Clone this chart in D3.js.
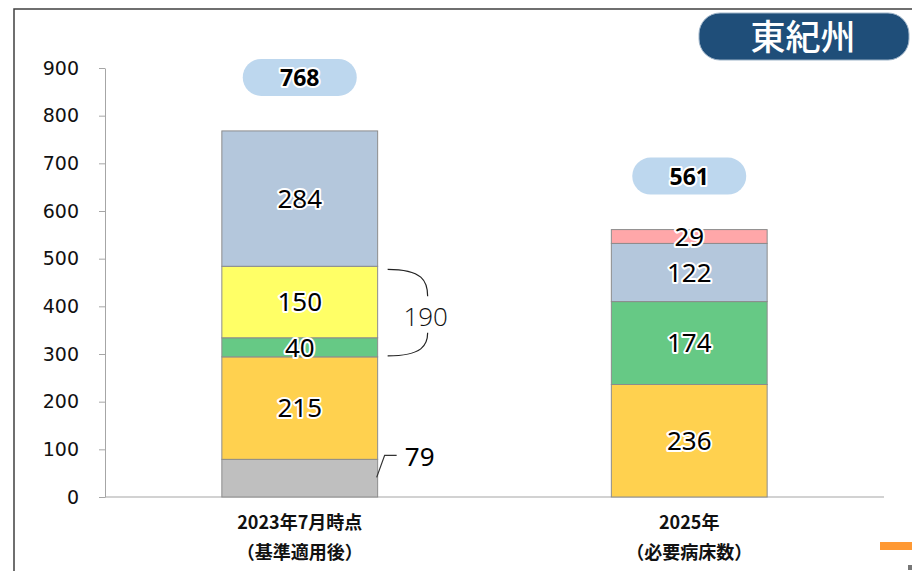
<!DOCTYPE html>
<html>
<head>
<meta charset="utf-8">
<script src="https://cdn.jsdelivr.net/npm/d3@7"></script>
<style>
  html, body { margin: 0; padding: 0; background: #fff; }
  svg { display: block; }
  .halo { paint-order: stroke; stroke: #fff; stroke-width: 4px; stroke-linejoin: round; }
</style>
</head>
<body>
<svg id="chart" width="912" height="571"></svg>
<script>
// categories and bottom labels
const categories = ["2023年7月時点", "2025年"];
const subLabels = ["（基準適用後）", "（必要病床数）"];

// stacked series, bottom to top
const seriesKeys = ["休棟等", "慢性期", "回復期", "回復期相当", "急性期", "高度急性期"];
const seriesColors = ["#BFBFBF", "#FFD14F", "#66C985", "#FFFF66", "#B4C7DC", "#FFA7A9"];
const values2023 = [79, 215, 40, 150, 284, 0];
const values2025 = [0, 236, 174, 0, 122, 29];
const totals = [768, 561];
const outsideKeys = ["休棟等"]; // labelled with a leader line

const yTicks = [0, 100, 200, 300, 400, 500, 600, 700, 800, 900];
const bracketValue = 190;
const regionName = "東紀州";

const svg = d3.select("#chart");
const margin = { left: 105, right: 28, top: 68, bottom: 74 };
const W = 912, H = 571;

const x = d3.scaleBand()
  .domain(categories)
  .range([margin.left, W - margin.right])
  .padding(0);
const barW = x.bandwidth() * 0.4;

const y = d3.scaleLinear()
  .domain([0, 900])
  .range([H - margin.bottom, margin.top]);

// frame
svg.append("path")
  .attr("d", `M14,${H}V9H${W}`)
  .attr("fill", "none")
  .attr("stroke", "#404040")
  .attr("stroke-width", 1.5);

// y axis
const yAxis = svg.append("g")
  .attr("transform", `translate(${margin.left},0)`)
  .call(d3.axisLeft(y).tickValues(yTicks).tickSize(6).tickPadding(20).tickSizeOuter(0));
yAxis.select(".domain").attr("stroke", "#A6A6A6");
yAxis.selectAll(".tick line").attr("stroke", "#A6A6A6");
yAxis.selectAll(".tick text")
  .attr("font-family", "DejaVu Sans, sans-serif")
  .attr("font-size", 19)
  .attr("fill", "#111");

// x axis line
svg.append("line")
  .attr("x1", margin.left).attr("x2", W - margin.right)
  .attr("y1", y(0)).attr("y2", y(0))
  .attr("stroke", "#A6A6A6").attr("stroke-width", 1.2);

// stack data
const table = seriesKeys.map((k, i) => ({ key: k, values: [values2023[i], values2025[i]] }));
const rows = categories.map((c, ci) => {
  const r = { cat: c };
  seriesKeys.forEach((k, i) => r[k] = table[i].values[ci]);
  return r;
});
const stacked = d3.stack().keys(seriesKeys)(rows);

const bars = svg.append("g");
stacked.forEach((layer, li) => {
  layer.forEach(seg => {
    const v = seg[1] - seg[0];
    if (v <= 0) return;
    const cx = x(seg.data.cat) + x.bandwidth() / 2;
    bars.append("rect")
      .attr("x", cx - barW / 2)
      .attr("y", y(seg[1]))
      .attr("width", barW)
      .attr("height", y(seg[0]) - y(seg[1]))
      .attr("fill", seriesColors[li])
      .attr("stroke", "#8C8C8C")
      .attr("stroke-width", 1);
  });
});

// segment labels
const labels = svg.append("g")
  .attr("font-family", "Noto Sans, sans-serif")
  .attr("font-size", 26)
  .attr("text-anchor", "middle")
  .attr("fill", "#000");
stacked.forEach((layer, li) => {
  layer.forEach(seg => {
    const v = seg[1] - seg[0];
    if (v <= 0) return;
    const cx = x(seg.data.cat) + x.bandwidth() / 2;
    if (outsideKeys.includes(layer.key)) {
      // leader line for the small bottom value
      const x0 = cx + barW / 2;
      const yy = y(seg[1]);
      svg.append("path")
        .attr("d", `M${x0 - 1},${yy + 18}L${x0 + 7},${yy - 4}H${x0 + 19}`)
        .attr("fill", "none").attr("stroke", "#333").attr("stroke-width", 1.2);
      labels.append("text")
        .attr("x", x0 + 42).attr("y", yy - 3)
        .attr("dy", "0.36em")
        .text(v);
      return;
    }
    labels.append("text")
      .attr("class", "halo")
      .attr("x", cx)
      .attr("y", y((seg[0] + seg[1]) / 2))
      .attr("dy", "0.36em")
      .text(v);
  });
});

// bracket for 150 + 40
{
  const cx = x(categories[0]) + x.bandwidth() / 2 + barW / 2;
  const yTop = y(values2023[0] + values2023[1] + values2023[2] + values2023[3]);
  const yBot = y(values2023[0] + values2023[1]);
  const xr = cx + 50;
  const xl = cx + 10;
  const ym = (yTop + yBot) / 2;
  svg.append("path")
    .attr("d", `M${xl},${yTop + 3}C${xr - 5},${yTop + 3} ${xr},${yTop + 15} ${xr},${yTop + 30}`)
    .attr("fill", "none").attr("stroke", "#222").attr("stroke-width", 1.2);
  svg.append("path")
    .attr("d", `M${xl},${yBot - 1}C${xr - 5},${yBot - 1} ${xr},${yBot - 12} ${xr},${yBot - 24}`)
    .attr("fill", "none").attr("stroke", "#222").attr("stroke-width", 1.2);
  svg.append("text")
    .attr("x", xr - 2).attr("y", ym + 5)
    .attr("dy", "0.36em")
    .attr("text-anchor", "middle")
    .attr("font-family", "Open Sans, sans-serif")
    .attr("font-weight", 300)
    .attr("font-size", 26)
    .attr("fill", "#111")
    .text(bracketValue);
}

// total pills
categories.forEach((c, i) => {
  const cx = x(c) + x.bandwidth() / 2;
  const cy = y(totals[i]) - 53;
  svg.append("rect")
    .attr("x", cx - 57).attr("y", cy - 19)
    .attr("width", 114).attr("height", 37)
    .attr("rx", 18.5)
    .attr("fill", "#BDD7EE");
  svg.append("text")
    .attr("class", "halo")
    .attr("x", cx).attr("y", cy)
    .attr("dy", "0.36em")
    .attr("text-anchor", "middle")
    .attr("font-family", "Noto Sans, sans-serif")
    .attr("font-weight", 700)
    .attr("font-size", 23)
    .text(totals[i]);
});

// category labels
const catG = svg.append("g")
  .attr("font-family", "Noto Sans CJK JP, sans-serif")
  .attr("font-weight", 700)
  .attr("font-size", 18)
  .attr("text-anchor", "middle")
  .attr("fill", "#111");
categories.forEach((c, i) => {
  const cx = x(c) + x.bandwidth() / 2;
  catG.append("text").attr("x", cx).attr("y", 529).text(c);
  catG.append("text").attr("x", cx).attr("y", 559).text(subLabels[i]);
});

// region badge
svg.append("rect")
  .attr("x", 699).attr("y", 13)
  .attr("width", 210).attr("height", 47)
  .attr("rx", 21)
  .attr("fill", "#1F4E79")
  .attr("stroke", "#9DB3C8").attr("stroke-width", 1);
svg.append("text")
  .attr("x", 803).attr("y", 37)
  .attr("dy", "0.36em")
  .attr("text-anchor", "middle")
  .attr("font-family", "Noto Sans CJK JP, sans-serif")
  .attr("font-weight", 500)
  .attr("font-size", 35)
  .attr("fill", "#fff")
  .text(regionName);

// decorative corner marks
svg.append("rect").attr("x", 880).attr("y", 542).attr("width", 32).attr("height", 8).attr("fill", "#FF9933");
svg.append("rect").attr("x", 908).attr("y", 565).attr("width", 4).attr("height", 5).attr("fill", "#777");
</script>
</body>
</html>
